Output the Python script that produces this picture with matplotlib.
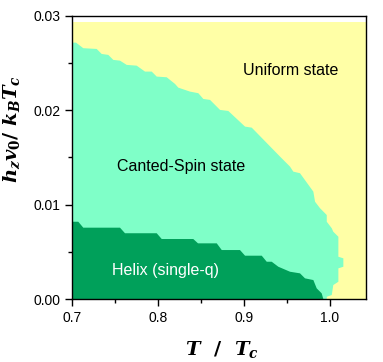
import numpy as np
import matplotlib
matplotlib.use("Agg")
import matplotlib.pyplot as plt
from matplotlib.ticker import MultipleLocator

plt.rcParams['font.family'] = ['Liberation Sans', 'DejaVu Sans']
plt.rcParams['mathtext.fontset'] = 'custom'
plt.rcParams['mathtext.it'] = 'DejaVu Serif:bold:italic'
plt.rcParams['mathtext.rm'] = 'DejaVu Serif:bold'
plt.rcParams['mathtext.bf'] = 'DejaVu Serif:bold'

# uniform state fills the whole window
uniform_T = [0.70, 1.042]
uniform_top = 0.0294

# canted-spin / uniform boundary (T/Tc, h)
cant_T = [0.700, 0.7047, 0.7131, 0.7287, 0.7345, 0.7422, 0.7480, 0.7558, 0.7636,
          0.7752, 0.7849, 0.7927, 0.7985, 0.8101, 0.8198, 0.8236, 0.8372, 0.8469,
          0.8527, 0.8605, 0.8721, 0.8817, 0.9012, 0.9090, 0.9419, 0.9535, 0.9573,
          0.9651, 0.9806, 0.9826, 0.9884, 0.9962, 0.9962, 1.0020, 1.0038, 1.0097,
          1.0097, 1.0155, 1.0155, 1.0097, 1.0097, 1.0038, 1.0020, 0.9962, 0.9962]
cant_h = [0.02717, 0.02717, 0.02658, 0.02650, 0.02597, 0.02587, 0.02534, 0.02526,
          0.02481, 0.02473, 0.02410, 0.02410, 0.02357, 0.02350, 0.02279, 0.02240,
          0.02198, 0.02181, 0.02120, 0.02110, 0.02004, 0.01993, 0.01827, 0.01816,
          0.01509, 0.01403, 0.01350, 0.01333, 0.01138, 0.01031, 0.00962, 0.00890,
          0.00819, 0.00750, 0.00713, 0.00660, 0.00448, 0.00431, 0.00342, 0.00325,
          0.00183, 0.00148, 0.00042, 0.00024, 0.0]

# helix boundary
helix_T = [0.700, 0.7073, 0.7131, 0.7558, 0.7616, 0.7985, 0.8043, 0.8410, 0.8465,
           0.8683, 0.8741, 0.8953, 0.9012, 0.9206, 0.9264, 0.9322, 0.9399, 0.9535,
           0.9651, 0.9709, 0.9806, 0.9845, 0.9903, 0.9922]
helix_h = [0.00819, 0.00819, 0.00756, 0.00756, 0.00697, 0.00697, 0.00636, 0.00636,
           0.00590, 0.00590, 0.00519, 0.00519, 0.00459, 0.00459, 0.00395, 0.00395,
           0.00342, 0.00289, 0.00272, 0.00219, 0.00201, 0.00113, 0.00060, 0.0]

c_uniform = '#FFFFA6'
c_cant = '#7FFFC8'
c_helix = '#00A05A'

fig = plt.figure(figsize=(3.83, 3.62), dpi=100)
ax = fig.add_axes([0.188, 0.174, 0.768, 0.782])

ax.fill_between(uniform_T, 0, uniform_top, color=c_uniform, lw=0)
ax.fill(cant_T + [cant_T[0]], cant_h + [0.0], color=c_cant, lw=0)
ax.fill(helix_T + [helix_T[0]], helix_h + [0.0], color=c_helix, lw=0)

ax.text(0.954, 0.0242, 'Uniform state', ha='center', va='center', fontsize=11.5)
ax.text(0.8267, 0.0140, 'Canted-Spin state', ha='center', va='center', fontsize=11.5)
ax.text(0.8087, 0.0030, 'Helix (single-q)', ha='center', va='center', fontsize=11.5,
        color='white')

ax.set_xlim(0.7, 1.042)
ax.set_ylim(0, 0.03)
ax.xaxis.set_major_locator(MultipleLocator(0.1))
ax.xaxis.set_minor_locator(MultipleLocator(0.05))
ax.yaxis.set_major_locator(MultipleLocator(0.01))
ax.yaxis.set_minor_locator(MultipleLocator(0.005))
ax.xaxis.set_major_formatter(plt.FormatStrFormatter('%.1f'))
ax.yaxis.set_major_formatter(plt.FormatStrFormatter('%.2f'))
ax.tick_params(which='major', direction='out', length=5, width=1, labelsize=10)
ax.tick_params(which='minor', direction='out', length=3, width=1)
for s in ax.spines.values():
    s.set_linewidth(1)

ax.set_xlabel(r'$T\ \ /\ \ T_c$', fontsize=14)
ax.xaxis.set_label_coords(0.51, -0.14)
ax.set_ylabel(r'$h_z v_0 /\ k_B T_c$', fontsize=14)
ax.yaxis.set_label_coords(-0.17, 0.60)

fig.savefig('out.png', dpi=100)
